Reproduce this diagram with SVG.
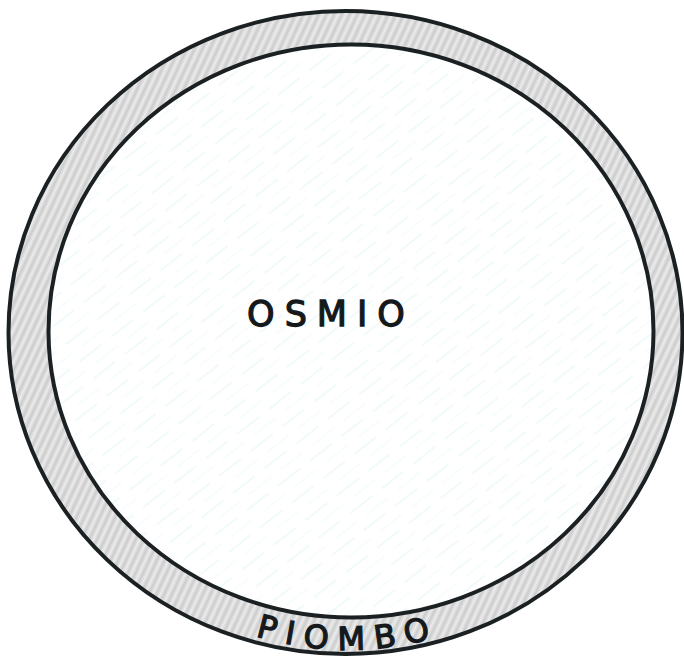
<svg xmlns="http://www.w3.org/2000/svg" width="684" height="661" viewBox="0 0 684 661">
  <style>
    .edge { stroke: #1b2023; stroke-width: 4; }
    .ring { fill: url(#pencil); }
    .core { fill: url(#tint); }
    .label { font-family: "DejaVu Sans", "Liberation Sans", sans-serif; fill: #15191c; stroke: #15191c; stroke-width: 1.3; }
  </style>
  <defs>
    <pattern id="pencil" width="7" height="7" patternUnits="userSpaceOnUse" patternTransform="rotate(-65)">
      <rect width="7" height="7" fill="#dcdcdc"/>
      <line x1="0" y1="1" x2="7" y2="1" stroke="#c6c6c6" stroke-width="1.2"/>
      <line x1="0" y1="4.5" x2="7" y2="4.5" stroke="#efefef" stroke-width="1.4"/>
    </pattern>
    <pattern id="tint" width="40" height="22" patternUnits="userSpaceOnUse" patternTransform="rotate(-38)">
      <rect width="40" height="22" fill="#ffffff"/>
      <line x1="0" y1="4" x2="28" y2="4" stroke="#dcf3f2" stroke-width="0.8"/>
      <line x1="12" y1="15" x2="40" y2="15" stroke="#e8f7f6" stroke-width="0.7"/>
    </pattern>
    <path id="arcBottom" d="M 148 578 A 313 311 0 0 0 548 578"/>
  </defs>
  <rect width="684" height="661" fill="#ffffff"/>
  <g id="piombo">
    <ellipse cx="345.5" cy="332.5" rx="337" ry="321.5" class="ring edge"/>
    <text class="label" font-size="32" letter-spacing="10">
      <textPath href="#arcBottom" startOffset="50%" text-anchor="middle">PIOMBO</textPath>
    </text>
  </g>
  <g id="osmio">
    <ellipse cx="351" cy="331" rx="302.5" ry="286.5" class="core edge"/>
    <text class="label" x="331" y="326" font-size="35" letter-spacing="10" text-anchor="middle">OSMIO</text>
  </g>
</svg>
